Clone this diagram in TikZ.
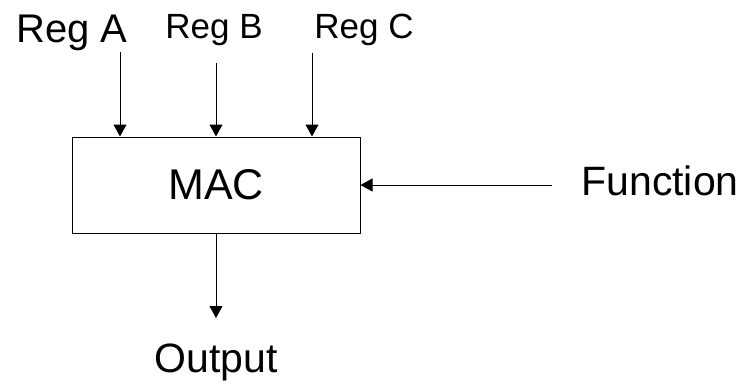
\documentclass[tikz,border=0pt]{standalone}
\usepackage{fontspec}
\setmainfont{Liberation Sans}
\usetikzlibrary{arrows.meta, positioning}

\begin{document}
\begin{tikzpicture}[
  x=1pt, y=-1pt,
  block/.style={draw, line width=1pt, minimum width=288pt, minimum height=96pt, inner sep=0pt, font=\fontsize{43}{50}\selectfont},
  iotext/.style={inner sep=0pt, anchor=base, font=\fontsize{35}{42}\selectfont},
  arrow/.style={-{Triangle[length=12pt, width=13pt]}, line width=1pt}
]
  \useasboundingbox (0,0) rectangle (746,385);

  \node[block] (mac) at (216,185) {MAC};
  \node[iotext, font=\fontsize{40}{48}\selectfont] (rega) at (72,43) {Reg A};
  \node[iotext] (regb) at (214,39) {Reg B};
  \node[iotext] (regc) at (364,39) {Reg C};
  \node[iotext, font=\fontsize{41}{48}\selectfont] (func) at (660,195) {Function};
  \node[iotext, font=\fontsize{41}{48}\selectfont] (output) at (216,372) {Output};

  \coordinate (ina) at (120,52);
  \coordinate (inb) at (216,63);
  \coordinate (inc) at (312,53);
  \coordinate (infn) at (552,185);
  \coordinate (outend) at (216,318);

  \draw[arrow] (ina) -- (ina |- mac.north);
  \draw[arrow] (inb) -- (inb |- mac.north);
  \draw[arrow] (inc) -- (inc |- mac.north);
  \draw[arrow] (infn) -- (mac.east);
  \draw[arrow] (mac.south) -- (outend);
\end{tikzpicture}
\end{document}
